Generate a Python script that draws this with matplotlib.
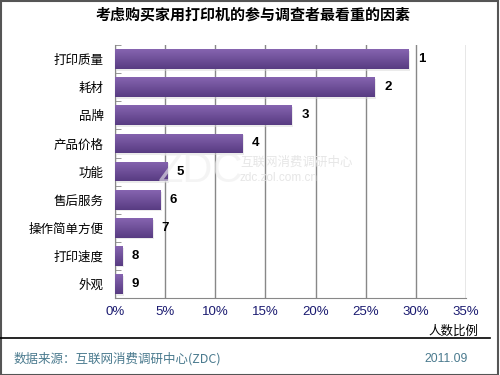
import matplotlib
matplotlib.use("Agg")
import matplotlib.pyplot as plt
import numpy as np
from matplotlib.patches import Rectangle
from matplotlib.lines import Line2D
from matplotlib.colors import LinearSegmentedColormap

plt.rcParams['font.family'] = ['Noto Sans CJK SC', 'DejaVu Sans']

categories = ["打印质量", "耗材", "品牌", "产品价格", "功能", "售后服务", "操作简单方便", "打印速度", "外观"]
values = [29.3, 25.9, 17.6, 12.7, 5.2, 4.5, 3.7, 0.7, 0.7]
ranks = ["1", "2", "3", "4", "5", "6", "7", "8", "9"]
xticks = [0, 5, 10, 15, 20, 25, 30, 35]
xticklabels = ["0%", "5%", "10%", "15%", "20%", "25%", "30%", "35%"]

fig = plt.figure(figsize=(5, 3.75), dpi=100)
ax = fig.add_axes([0.23, 0.205, 0.702, 0.675])

y = np.arange(len(categories))
bh = 0.7
ax.barh(y + 0.06, values, height=bh, left=0.15, color="#d8d8d8", alpha=0.5, zorder=2)
bars = ax.barh(y, values, height=bh, color="#6d4f9a", zorder=3)
grad = np.linspace(0, 1, 64).reshape(-1, 1)
cmap = LinearSegmentedColormap.from_list("pur", ["#8664b0", "#583c82"])
for b in bars:
    x0, y0 = b.get_x(), b.get_y()
    w, h = b.get_width(), b.get_height()
    im = ax.imshow(grad, extent=(x0, x0 + w, y0 + h, y0), aspect="auto", cmap=cmap, zorder=4)
    im.set_clip_path(b)

for yi, v, r in zip(y, values, ranks):
    ax.annotate(r, (v, yi), xytext=(7, 0), textcoords="offset points",
                va="center", ha="left", fontsize=9.5, color="black", fontweight="bold",
                family=["Liberation Sans"])

ax.set_xlim(0, 35)
ax.set_ylim(len(categories) - 0.5, -0.5)
ax.set_xticks(xticks)
ax.set_xticklabels(xticklabels, color="#1a1a70", fontsize=9.5, family=["Liberation Sans"])
ax.set_yticks(y)
ax.set_yticklabels(categories, fontsize=9, color="black")
ax.tick_params(axis="y", length=0, pad=8)
ax.tick_params(axis="x", length=0, pad=6)
ax.set_yticks(np.arange(-0.5, len(categories), 1), minor=True)
ax.tick_params(axis="y", which="minor", length=4, direction="in", color="#888888")
ax.grid(axis="x", color="#888888", linewidth=1, zorder=0)
ax.set_axisbelow(True)
for s in ["top", "right"]:
    ax.spines[s].set_visible(False)
ax.spines["left"].set_color("#888888")
ax.spines["bottom"].set_color("#888888")

# faint watermark
fig.text(0.40, 0.545, "ZDC", fontsize=30, color="#eeeeee", ha="center", va="center",
         family=["Liberation Sans"], zorder=1.5, alpha=0.6)
fig.text(0.48, 0.568, "互联网消费调研中心", fontsize=9, color="#e6e6e6", ha="left", va="center", zorder=1.5)
fig.text(0.48, 0.525, "zdc.zol.com.cn", fontsize=8.5, color="#e6e6e6", ha="left", va="center",
         family=["Liberation Sans"], zorder=1.5)

fig.text(0.505, 0.962, "考虑购买家用打印机的参与调查者最看重的因素", fontsize=10.8, fontweight="bold",
         ha="center", va="center", color="black")
fig.text(0.956, 0.117, "人数比例", fontsize=9, ha="right", va="center", color="black")

fig.add_artist(Line2D([0.0, 0.98], [0.099, 0.099], color="black", linewidth=1.2))
fig.text(0.028, 0.043, "数据来源：互联网消费调研中心(ZDC)", fontsize=9, color="#4a7a8e",
         ha="left", va="center")
fig.text(0.935, 0.043, "2011.09", fontsize=8.7, color="#4a7a8e", ha="right", va="center",
         family=["Liberation Sans"])

fig.add_artist(Rectangle((0.001, 0.001), 0.994, 0.996, fill=False, edgecolor="#555555",
                         linewidth=1.5, transform=fig.transFigure))

fig.savefig("out.png", dpi=100)
